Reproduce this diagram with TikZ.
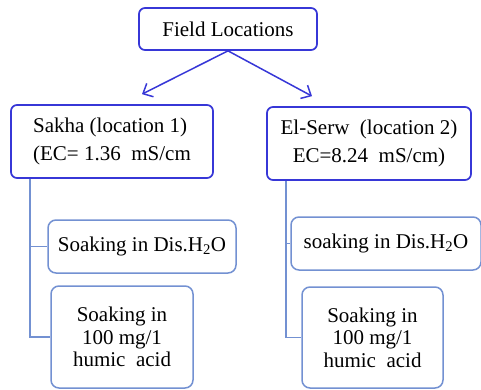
\documentclass[tikz,border=0pt]{standalone}
\usepackage{fontspec}
\setmainfont{Liberation Serif}
\usepackage{tikz}
\usetikzlibrary{shapes, arrows, arrows.meta, calc, positioning}
\definecolor{topblue}{RGB}{55,55,215}
\definecolor{lowblue}{RGB}{115,145,210}
\newcommand{\boxfont}{\fontsize{21}{28}\selectfont}
\newcommand{\tightfont}{\fontsize{21}{22.5}\selectfont}

\begin{document}
\begin{tikzpicture}[x=1pt,y=-1pt,style=thick]
            \useasboundingbox (0,0) rectangle (481,390);
            \tikzstyle{topbox}=[draw=topblue,line width=1.7pt,rounded corners=6pt,fill=white,font=\boxfont]
            \tikzstyle{lowbox}=[draw=lowblue,line width=1.5pt,rounded corners=8pt,fill=white,font=\boxfont]
            \tikzstyle{branch}=[draw=lowblue,line width=1.6pt]
            \tikzstyle{arr}=[draw=topblue,line width=1.5pt,-{Straight Barb[length=8pt,width=15pt]}]

            \node[topbox,minimum width=178pt,minimum height=42pt] (field) at (228,29) {Field Locations};

            \node[topbox,minimum width=202pt,minimum height=73pt,align=left] (sakha) at (112,141.5) {Sakha (location 1)\\(EC=~1.36~ mS/cm};
            \node[topbox,minimum width=204pt,minimum height=73pt,align=center] (serw) at (369,143.5) {El-Serw~ (location 2)\\EC=8.24~ mS/cm)};

            \node[lowbox,minimum width=188pt,minimum height=53pt] (dis_1) at (142,246.5) {Soaking in Dis.H\textsubscript{2}O};
            \node[lowbox,minimum width=142pt,minimum height=102pt,align=center,font=\tightfont] (humic_1) at (122,337) {Soaking in\\100 mg/1\\humic~ acid};

            \node[lowbox,minimum width=190pt,minimum height=53pt] (dis_2) at (386,243.5) {soaking in Dis.H\textsubscript{2}O};
            \node[lowbox,minimum width=141pt,minimum height=101pt,align=center,font=\tightfont] (humic_2) at (372.5,337.5) {Soaking in\\100 mg/1\\humic~ acid};

            \draw [arr] (field.south) -- ($(sakha.north)+(30,-10)$);
            \draw [arr] (field.south) -- ($(serw.north)+(-57,-10)$);

            \draw [branch] ($(sakha.south west)+(20,0)$) |- (dis_1.west);
            \draw [branch] ($(sakha.south west)+(20,0)$) |- (humic_1.west);

            \draw [branch] ($(serw.south west)+(20,0)$) |- (dis_2.west);
            \draw [branch] ($(serw.south west)+(20,0)$) |- (humic_2.west);
        \end{tikzpicture}
\end{document}
